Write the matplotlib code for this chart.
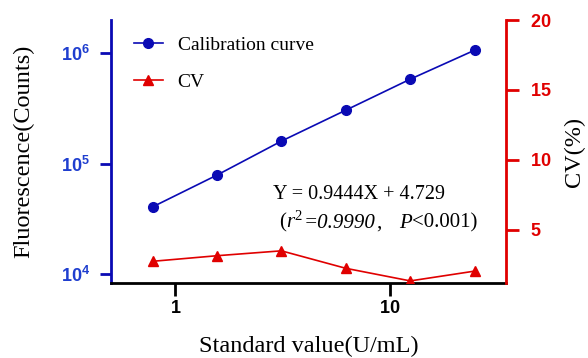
import numpy as np
import matplotlib
matplotlib.use("Agg")
import matplotlib.pyplot as plt
from matplotlib.ticker import FixedLocator, NullLocator, FuncFormatter

plt.rcParams['font.family'] = ['Liberation Serif', 'DejaVu Serif']
plt.rcParams['mathtext.fontset'] = 'custom'
plt.rcParams['mathtext.rm'] = 'Liberation Serif'
plt.rcParams['mathtext.it'] = 'Liberation Serif:italic'
plt.rcParams['mathtext.bf'] = 'Liberation Sans:bold'

# data
standard = [0.78125, 1.5625, 3.125, 6.25, 12.5, 25]
fluorescence = [40600, 78800, 160000, 305000, 582000, 1065000]
cv = [2.75, 3.15, 3.5, 2.25, 1.35, 2.05]

y_ticks = [1e4, 1e5, 1e6]
cv_ticks = [5, 10, 15, 20]
x_ticks = [1, 10]

blue = '#0a0ab4'
blue_lbl = '#1f3ecf'
red = '#e00000'

fig = plt.figure(figsize=(5.88, 3.58), dpi=100)
ax = fig.add_axes([0.1888, 0.2095, 0.6717, 0.7345])
ax2 = ax.twinx()

l1, = ax.plot(standard, fluorescence, color=blue, lw=1.2, marker='o', ms=7,
              label='Calibration curve')
l2, = ax2.plot(standard, cv, color=red, lw=1.2, marker='^', ms=7.5, label='CV')

ax.set_xscale('log')
ax.set_yscale('log')
ax.set_xlim(0.5, 35)
ax.set_ylim(10**3.92, 10**6.30)
ax2.set_ylim(1.2, 20)

ax.xaxis.set_major_locator(FixedLocator(x_ticks))
ax.xaxis.set_minor_locator(NullLocator())
ax.xaxis.set_major_formatter(FuncFormatter(lambda v, p: r'$\mathbf{%d}$' % v))
ax.yaxis.set_major_locator(FixedLocator(y_ticks))
ax.yaxis.set_minor_locator(NullLocator())
ax.yaxis.set_major_formatter(FuncFormatter(lambda v, p: r'$\mathbf{10^{%d}}$' % round(np.log10(v))))
ax2.yaxis.set_major_locator(FixedLocator(cv_ticks))
ax2.yaxis.set_major_formatter(FuncFormatter(lambda v, p: r'$\mathbf{%d}$' % v))

for s in ['top', 'right']:
    ax.spines[s].set_visible(False)
for s in ['top', 'left', 'bottom']:
    ax2.spines[s].set_visible(False)
ax.spines['left'].set_color(blue)
ax.spines['left'].set_linewidth(2)
ax.spines['bottom'].set_color('black')
ax.spines['bottom'].set_linewidth(2)
ax2.spines['right'].set_color(red)
ax2.spines['right'].set_linewidth(2)

ax.tick_params(axis='x', length=9, width=2, colors='black', labelsize=13, pad=3)
ax.tick_params(axis='y', length=8, width=2, color=blue, labelcolor=blue_lbl, labelsize=13, pad=7)
ax2.tick_params(axis='y', length=9, width=2, color=red, labelcolor=red, labelsize=13, pad=8)

ax.set_xlabel('Standard value(U/mL)', fontsize=17.5, labelpad=14)
ax.set_ylabel('Fluorescence(Counts)', fontsize=17.5, labelpad=19)
ax2.set_ylabel('CV(%)', fontsize=17.5, labelpad=9)

ax.legend(handles=[l1, l2], loc='upper left', frameon=False, fontsize=14,
          handlelength=1.5, handletextpad=0.75, borderaxespad=0,
          bbox_to_anchor=(0.038, 0.969), labelspacing=1.0)

ax.text(0.627, 0.335, 'Y = 0.9444X + 4.729', transform=ax.transAxes,
        fontsize=14.5, ha='center', va='center')

# second line of the fit note, italic parts drawn piece by piece
fs2 = 15
pieces = [('(', 'normal', 0), ('$r^{2}$', 'normal', 0.5), ('=0.9990', 'italic', 0),
          (',', 'normal', 0), ('P', 'italic', 13), ('<0.001)', 'normal', 0)]
prev = ax.text(0.425, 0.228, pieces[0][0], transform=ax.transAxes,
               fontsize=fs2, ha='left', va='center', style=pieces[0][1])
for txt, st, gap in pieces[1:]:
    prev = ax.annotate(txt, xy=(1, 0), xycoords=prev, xytext=(gap, 0),
                       textcoords='offset points', fontsize=fs2,
                       ha='left', va='bottom', style=st)

fig.savefig('out.png', dpi=100)
